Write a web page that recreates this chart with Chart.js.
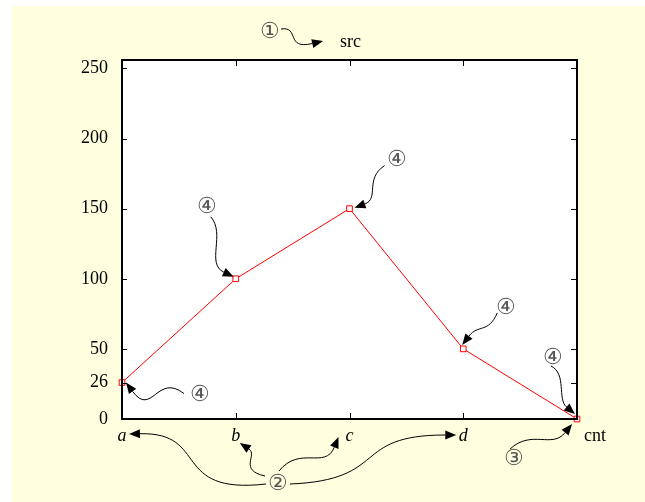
<!DOCTYPE html>
<html>
<head>
<meta charset="utf-8">
<script src="https://cdn.jsdelivr.net/npm/chart.js@4/dist/chart.umd.min.js"></script>
<style>
  html, body { margin: 0; padding: 0; background: #fff; }
  #wrap { width: 645px; height: 502px; }
</style>
</head>
<body>
<div id="wrap"><canvas id="chart" width="645" height="502"></canvas></div>
<script>
// chart data
const categories = ['a', 'b', 'c', 'd', 'cnt'];
const values = [26, 100, 150, 50, 0];
const yTicks = [0, 26, 50, 100, 150, 200, 250];
const yMax = 256;

const serif = '"Liberation Serif", "Times New Roman", serif';

// curved arrow, points relative to an anchor
function curvedArrow(ctx, ax, ay, s, c1, c2, e) {
    const sx = ax + s[0], sy = ay + s[1];
    const x1 = ax + c1[0], y1 = ay + c1[1];
    const x2 = ax + c2[0], y2 = ay + c2[1];
    const ex = ax + e[0], ey = ay + e[1];
    const ang = Math.atan2(ey - y2, ex - x2);
    const hl = 11, hw = 4.5;
    const bx = ex - Math.cos(ang) * hl, by = ey - Math.sin(ang) * hl;
    ctx.save();
    ctx.strokeStyle = '#000';
    ctx.fillStyle = '#000';
    ctx.lineWidth = 1;
    ctx.beginPath();
    ctx.moveTo(sx, sy);
    ctx.bezierCurveTo(x1, y1, x2, y2, bx, by);
    ctx.stroke();
    ctx.beginPath();
    ctx.moveTo(ex, ey);
    ctx.lineTo(bx - Math.sin(ang) * hw, by + Math.cos(ang) * hw);
    ctx.lineTo(bx + Math.sin(ang) * hw, by - Math.cos(ang) * hw);
    ctx.closePath();
    ctx.fill();
    ctx.restore();
}

function circled(ctx, txt, x, y) {
    ctx.save();
    ctx.fillStyle = '#555';
    ctx.font = '22px "DejaVu Serif", serif';
    ctx.textAlign = 'center';
    ctx.textBaseline = 'middle';
    ctx.fillText(txt, x, y);
    ctx.restore();
}

const framePlugin = {
    id: 'frame',
    beforeDraw(chart) {
        const { ctx, chartArea: ca } = chart;
        ctx.save();
        ctx.fillStyle = '#ffffff';
        ctx.fillRect(0, 0, chart.width, chart.height);
        ctx.fillStyle = '#ffffe0';
        ctx.fillRect(12, 6, chart.width - 12, chart.height - 6);
        ctx.fillStyle = '#ffffff';
        ctx.fillRect(ca.left, ca.top, ca.right - ca.left, ca.bottom - ca.top);
        ctx.restore();
    },
    afterDraw(chart) {
        const { ctx, chartArea: ca } = chart;
        const xs = chart.scales.x, ys = chart.scales.y;
        ctx.save();
        ctx.strokeStyle = '#000';
        ctx.lineWidth = 1;
        // inward ticks
        ctx.beginPath();
        categories.forEach((c, i) => {
            const px = Math.round(xs.getPixelForValue(i)) + 0.5;
            ctx.moveTo(px, ca.bottom); ctx.lineTo(px, ca.bottom - 6);
            ctx.moveTo(px, ca.top); ctx.lineTo(px, ca.top + 6);
        });
        yTicks.forEach(v => {
            const py = Math.round(ys.getPixelForValue(v)) + 0.5;
            ctx.moveTo(ca.left, py); ctx.lineTo(ca.left + 5, py);
            ctx.moveTo(ca.right, py); ctx.lineTo(ca.right - 6, py);
        });
        ctx.stroke();
        ctx.lineWidth = 2;
        ctx.strokeRect(ca.left, ca.top, ca.right - ca.left, ca.bottom - ca.top);
        ctx.restore();

        // annotations
        const P = i => [xs.getPixelForValue(i), ys.getPixelForValue(values[i])];
        ctx.save();
        ctx.fillStyle = '#000';
        ctx.font = '18px ' + serif;
        ctx.textBaseline = 'middle';
        ctx.fillText('src', 340, 42);
        ctx.restore();
        circled(ctx, '\u2460', 270, 32);
        curvedArrow(ctx, 0, 0, [281, 29], [300, 26], [285, 50], [323, 41]);

        // 4 on each point
        let [x, y] = P(0);
        circled(ctx, '\u2463', x + 78, y + 13);
        curvedArrow(ctx, x, y, [62, 11], [35, -10], [30, 35], [4, 0]);
        [x, y] = P(1);
        circled(ctx, '\u2463', x - 29, y - 71);
        curvedArrow(ctx, x, y, [-25, -62], [-10, -45], [-30, -15], [-2, -2]);
        [x, y] = P(2);
        circled(ctx, '\u2463', x + 47, y - 48);
        curvedArrow(ctx, x, y, [35, -43], [15, -30], [30, -10], [5, -1]);
        [x, y] = P(3);
        circled(ctx, '\u2463', x + 43, y - 41);
        curvedArrow(ctx, x, y, [34, -36], [25, -15], [15, -25], [-1, -4]);
        [x, y] = P(4);
        circled(ctx, '\u2463', x - 24, y - 61);
        curvedArrow(ctx, x, y, [-26, -53], [-10, -45], [-20, -20], [-2, -5]);
        circled(ctx, '\u2462', x - 63, y + 40);
        curvedArrow(ctx, x, y, [-67, 30], [-45, 10], [-25, 30], [-5, 5]);

        // 2 pointing at category labels
        const ly = ca.bottom;
        const bx = xs.getPixelForValue(1);
        const cx = xs.getPixelForValue(2), dx = xs.getPixelForValue(3);
        circled(ctx, '\u2461', 278, 484);
        curvedArrow(ctx, 0, 0, [266, 484], [170, 495], [210, 432], [129, ly + 15]);
        curvedArrow(ctx, 0, 0, [265, 476], [238, 470], [258, 455], [bx + 4, ly + 24]);
        curvedArrow(ctx, 0, 0, [279, 471], [300, 445], [325, 470], [cx - 11, ly + 18]);
        curvedArrow(ctx, 0, 0, [290, 484], [390, 480], [350, 435], [dx - 7, ly + 16]);
    }
};

new Chart(document.getElementById('chart'), {
    type: 'line',
    data: {
        labels: categories,
        datasets: [{
            data: values,
            borderColor: '#ff0000',
            borderWidth: 1,
            pointStyle: 'rect',
            pointRadius: 4,
            pointHoverRadius: 4,
            pointBorderColor: '#ff0000',
            pointBackgroundColor: '#ffffff',
            pointBorderWidth: 1,
            tension: 0,
            clip: false
        }]
    },
    options: {
        responsive: false,
        animation: false,
        events: [],
        layout: { padding: { left: 0, top: 60, right: 68, bottom: 0 } },
        plugins: { legend: { display: false }, tooltip: { enabled: false } },
        scales: {
            x: {
                type: 'category',
                offset: false,
                grid: { display: false },
                border: { display: false },
                afterFit: s => { s.height = 83; },
                ticks: {
                    color: '#000',
                    padding: -2,
                    maxRotation: 0,
                    // the last label sits to the right of its tick
                    callback: (v, i) => i === categories.length - 1
                        ? '\u2002\u2002\u2002\u2002' + categories[i] : categories[i],
                    font: c => ({ family: serif, size: 18, style: c.index < 4 ? 'italic' : 'normal' })
                }
            },
            y: {
                min: 0,
                max: yMax,
                grid: { display: false },
                border: { display: false },
                afterFit: s => { s.width = 122; },
                afterBuildTicks: s => { s.ticks = yTicks.map(v => ({ value: v })); },
                ticks: {
                    color: '#000',
                    padding: 6,
                    font: { family: serif, size: 18 }
                }
            }
        }
    },
    plugins: [framePlugin]
});
</script>
</body>
</html>
